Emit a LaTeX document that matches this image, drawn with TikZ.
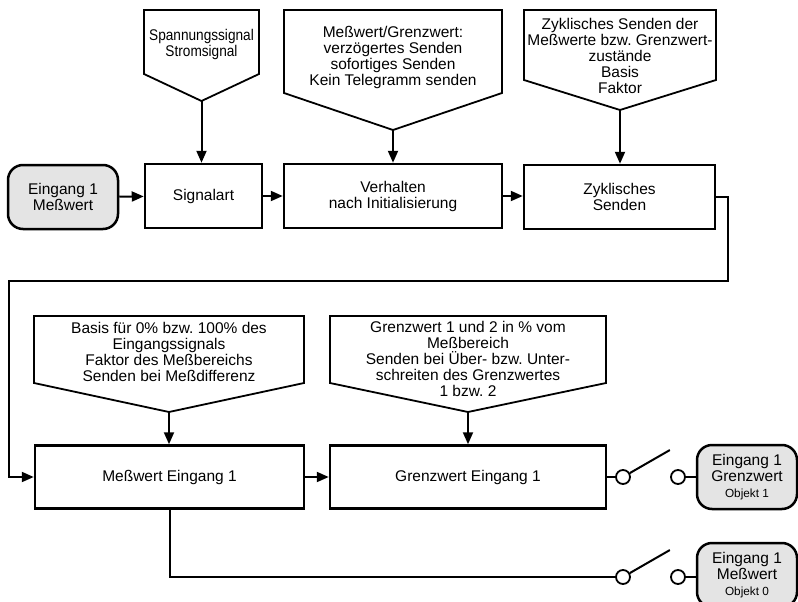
\documentclass[tikz,border=0pt]{standalone}
\usepackage{fontspec}
\setmainfont{Liberation Sans}
\newfontfamily\schmal[FakeStretch=0.88]{Liberation Sans}
\usetikzlibrary{arrows.meta, positioning, calc}
\definecolor{kaGrau}{HTML}{E4E4E4}
\frenchspacing

\begin{document}
\begin{tikzpicture}[x=1pt, y=-1pt, line width=2pt]
  \tikzset{
    box/.style={draw, line width=2.5pt, minimum height=64pt, inner sep=0pt,
                align=center, font=\fontsize{15.5}{16}\selectfont},
    ein/.style={box, rounded corners=15pt, fill=kaGrau},
    fahne/.style={draw, line width=1.8pt, line join=miter},
    ftext/.style={align=center, inner sep=0pt, font=\fontsize{15.5}{16}\selectfont},
    kont/.style={circle, draw, line width=1.8pt, fill=white,
                 minimum size=14pt, inner sep=0pt},
    pfeil/.style={-{Triangle[length=12pt, width=10pt]}}}
  \useasboundingbox (0,0) rectangle (798,602);
  % obere Reihe
  \node[ein, minimum width=110pt] (in1) at (63,197) {Eingang 1\\Meßwert};
  \node[box, minimum width=117pt] (sig) at (203.5,196) {Signalart};
  \node[box, minimum width=218pt] (verh) at (393,196) {Verhalten\\nach Initialisierung};
  \node[box, minimum width=191pt] (zyk) at (619.5,197) {Zyklisches\\Senden};
  % untere Reihe
  \node[box, minimum width=269pt, minimum height=63pt] (mw) at (169.5,477) {Meßwert Eingang 1};
  \node[box, minimum width=276pt, minimum height=63pt] (gw) at (468,477) {Grenzwert Eingang 1};
  \node[ein, minimum width=100pt] (out1) at (747,477)
    {Eingang 1\\Grenzwert\\{\fontsize{11.8}{14}\selectfont Objekt 1}};
  \node[ein, minimum width=100pt] (out0) at (747,575)
    {Eingang 1\\Meßwert\\{\fontsize{11.8}{14}\selectfont Objekt 0}};
  % Fahnen mit Parametern
  \foreach \n/\xa/\xb/\yt/\ys/\yp in {1/144/259/10/74/101, 2/284/502/10/93/130,
      3/524/716/10/80/110, 4/34/304/316/383/412, 5/330/606/316/383/412}
    \draw[fahne] (\xa,\yt) -- (\xb,\yt) -- (\xb,\ys) -- ({(\xa+\xb)/2},\yp)
      coordinate (tip\n) -- (\xa,\ys) -- cycle;
  \node[ftext, font=\schmal\fontsize{15.5}{16}\selectfont] (t1) at (201.5,44)
    {Spannungssignal\\Stromsignal};
  \node[ftext] (t2) at (393,57)
    {Meßwert/Grenzwert:\\verzögertes Senden\\sofortiges Senden\\Kein Telegramm senden};
  \node[ftext] (t3) at (620,56)
    {Zyklisches Senden der\\Meßwerte bzw. Grenzwert-\\zustände\\Basis\\Faktor};
  \node[ftext] (t4) at (169,352)
    {Basis für 0\% bzw. 100\% des\\Eingangssignals\\Faktor des Meßbereichs\\Senden bei Meßdifferenz};
  \node[ftext] (t5) at (468,359)
    {Grenzwert 1 und 2 in \% vom\\Meßbereich\\Senden bei Über- bzw. Unter-\\schreiten des Grenzwertes\\1 bzw. 2};
  \draw[pfeil] (tip1) -- (tip1 |- sig.north);
  \draw[pfeil] (tip2) -- (tip2 |- verh.north);
  \draw[pfeil] (tip3) -- (tip3 |- zyk.north);
  \draw[pfeil] (tip4) -- (tip4 |- mw.north);
  \draw[pfeil] (tip5) -- (tip5 |- gw.north);
  % Signalfluss
  \draw[pfeil] (in1) -- (sig);
  \draw[pfeil] (sig) -- (verh);
  \draw[pfeil] (verh) -- (zyk.west |- verh);
  \coordinate (umlenk) at (9,281);
  \draw[pfeil] (zyk.east) -- ++(12,0) |- (umlenk) |- (mw.west);
  \draw[pfeil] (mw) -- (gw);
  % Schalter
  \node[kont] (k1a) at (623,477) {};
  \node[kont] (k1b) at (678,477) {};
  \node[kont] (k0a) at (623,577) {};
  \node[kont] (k0b) at (678,577) {};
  \draw (gw.east) -- (k1a);
  \draw (mw.south) |- (k0a);
  \foreach \k in {k1, k0}{
    \draw (\k a.30) -- ++(40,-23);
    \draw (\k b) -- (\k b -| out1.west);}
\end{tikzpicture}
\end{document}
